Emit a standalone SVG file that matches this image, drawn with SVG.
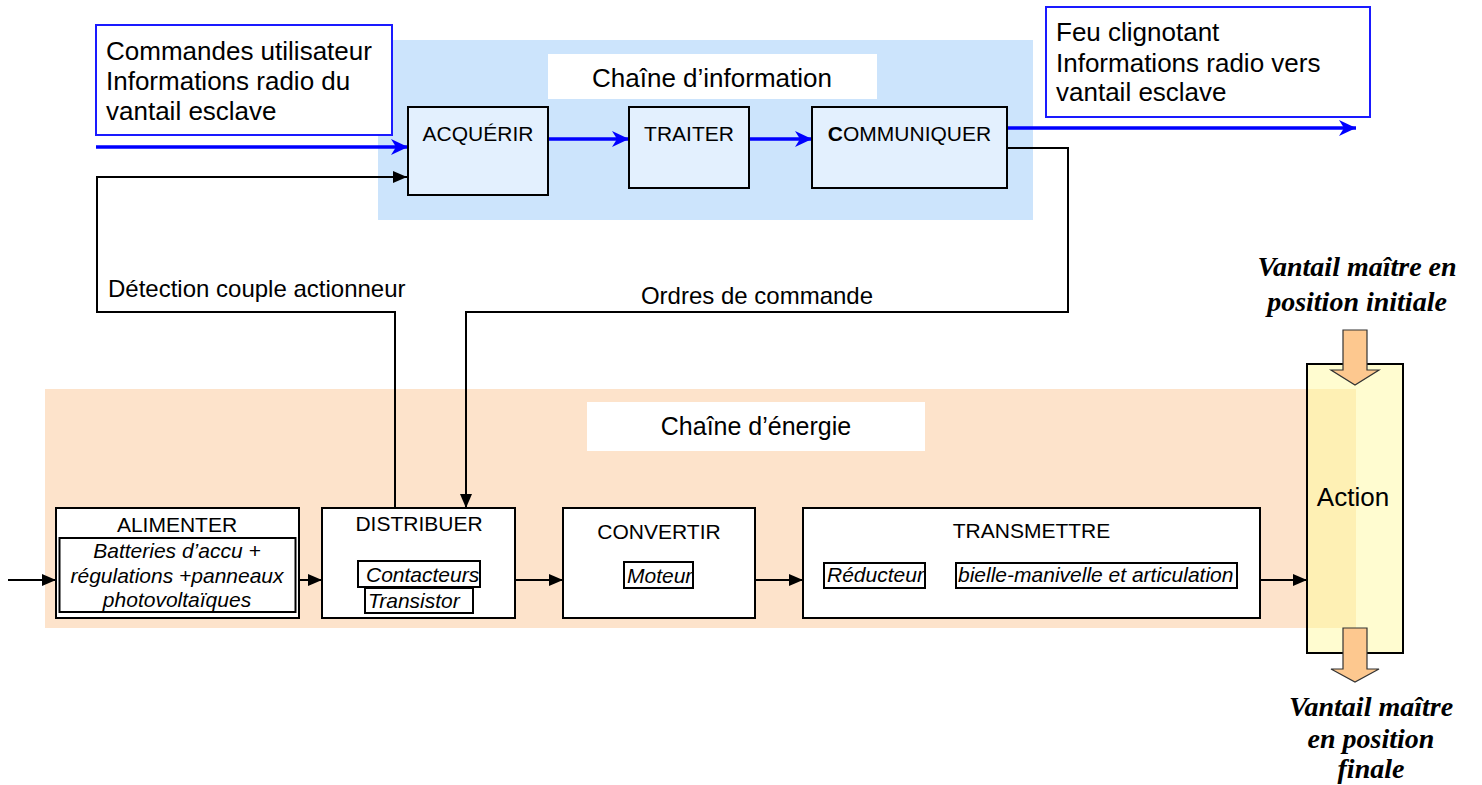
<svg xmlns="http://www.w3.org/2000/svg" width="1482" height="785" viewBox="0 0 1482 785">
<style>
.lbl{font-family:"Liberation Sans",Arial,sans-serif;fill:#000}
.box{fill:#fff;stroke:#000;stroke-width:2}
.ibox{fill:#e3f0fe;stroke:#000;stroke-width:2}
.sub{fill:#fff;stroke:#000;stroke-width:2}
.conn{fill:none;stroke:#000;stroke-width:2}
.blue{fill:none;stroke:#0000ff;stroke-width:3.5}
.vt{font-family:"Liberation Serif","Times New Roman",serif;font-weight:bold;font-style:italic;font-size:28px;text-anchor:middle}
.big{fill:#fdc88f;stroke:#333;stroke-width:1.2}
</style>
<defs>
<marker id="ah" markerUnits="userSpaceOnUse" markerWidth="14" markerHeight="12" refX="14" refY="6" orient="auto">
<path d="M0,0 L14,6 L0,12 Z" fill="#000"/>
</marker>
<marker id="bh" markerUnits="userSpaceOnUse" markerWidth="18" markerHeight="16" refX="17" refY="8" orient="auto">
<path d="M0,0 L17,8 L0,16 L5,8 Z" fill="#0000ff"/>
</marker>
</defs>
<rect width="1482" height="785" fill="#fff"/>

<g id="bg-info">
<rect x="378" y="40" width="655" height="180" fill="#cce4fc"/>
<rect x="548" y="54" width="329" height="45" fill="#fff"/>
<text class="lbl" x="712" y="87" font-size="26" text-anchor="middle">Chaîne d’information</text>
</g>
<g id="bg-energie">
<rect x="45" y="389" width="1311" height="239" fill="#fde3cb"/>
<rect x="587" y="402" width="338" height="49" fill="#fff"/>
<text class="lbl" x="756" y="435" font-size="25" text-anchor="middle">Chaîne d’énergie</text>
</g>

<g id="connectors">
<line class="blue" x1="96" y1="147" x2="408" y2="147" marker-end="url(#bh)"/>
<line class="blue" x1="549" y1="139" x2="629" y2="139" marker-end="url(#bh)"/>
<line class="blue" x1="749" y1="139" x2="812" y2="139" marker-end="url(#bh)"/>
<line class="blue" x1="1007" y1="128" x2="1356" y2="128" marker-end="url(#bh)"/>
<polyline class="conn" points="395,508 395,312 97,312 97,177 407,177" marker-end="url(#ah)"/>
<polyline class="conn" points="1007,148 1068,148 1068,312 466,312 466,508" marker-end="url(#ah)"/>
<line class="conn" x1="8" y1="580" x2="56" y2="580" marker-end="url(#ah)"/>
<line class="conn" x1="299" y1="580" x2="322" y2="580" marker-end="url(#ah)"/>
<line class="conn" x1="515" y1="580" x2="563" y2="580" marker-end="url(#ah)"/>
<line class="conn" x1="755" y1="580" x2="803" y2="580" marker-end="url(#ah)"/>
<line class="conn" x1="1260" y1="580" x2="1307" y2="580" marker-end="url(#ah)"/>
<line class="conn" x1="925" y1="575" x2="956" y2="575"/>
</g>

<g id="input-box">
<rect x="96" y="25" width="296" height="110" fill="#fff" stroke="#1a1aff" stroke-width="2"/>
<text class="lbl" font-size="26"><tspan x="106" y="60">Commandes utilisateur</tspan><tspan x="106" y="90">Informations radio du</tspan><tspan x="106" y="120">vantail esclave</tspan></text>
</g>
<g id="output-box">
<rect x="1046" y="7" width="324" height="110" fill="#fff" stroke="#1a1aff" stroke-width="2"/>
<text class="lbl" font-size="26"><tspan x="1056" y="41">Feu clignotant</tspan><tspan x="1056" y="72">Informations radio vers</tspan><tspan x="1056" y="101">vantail esclave</tspan></text>
</g>

<g id="acquerir">
<rect class="ibox" x="408" y="107" width="140" height="88"/>
<text class="lbl" x="478" y="141" font-size="21" text-anchor="middle">ACQUÉRIR</text>
</g>
<g id="traiter">
<rect class="ibox" x="629" y="107" width="120" height="81"/>
<text class="lbl" x="689" y="141" font-size="21" text-anchor="middle">TRAITER</text>
</g>
<g id="communiquer">
<rect class="ibox" x="812" y="107" width="195" height="81"/>
<text class="lbl" x="909.5" y="141" font-size="21" text-anchor="middle"><tspan font-weight="bold">C</tspan>OMMUNIQUER</text>
</g>

<g id="label-detection">
<text class="lbl" x="108" y="297" font-size="24">Détection couple actionneur</text>
</g>
<g id="label-ordres">
<text class="lbl" x="757" y="304" font-size="24" text-anchor="middle">Ordres de commande</text>
</g>

<g id="alimenter">
<rect class="box" x="56" y="508" width="243" height="110"/>
<rect class="sub" x="59.5" y="538" width="236" height="74" stroke-width="1.5"/>
<text class="lbl" x="177" y="532" font-size="21" text-anchor="middle">ALIMENTER</text>
<text class="lbl" font-size="21" font-style="italic" text-anchor="middle"><tspan x="177" y="558">Batteries d’accu +</tspan><tspan x="177" y="583">régulations +panneaux</tspan><tspan x="177" y="607">photovoltaïques</tspan></text>
</g>
<g id="distribuer">
<rect class="box" x="322" y="508" width="193" height="110"/>
<text class="lbl" x="419" y="531" font-size="21" text-anchor="middle">DISTRIBUER</text>
<rect class="sub" x="358" y="561" width="122" height="26"/>
<text class="lbl" x="366" y="582" font-size="21" font-style="italic">Contacteurs</text>
<rect class="sub" x="365" y="588" width="108" height="25"/>
<text class="lbl" x="368" y="608" font-size="21" font-style="italic">Transistor</text>
</g>
<g id="convertir">
<rect class="box" x="563" y="508" width="192" height="110"/>
<text class="lbl" x="659" y="539" font-size="21" text-anchor="middle">CONVERTIR</text>
<rect class="sub" x="624" y="562" width="69" height="26"/>
<text class="lbl" x="627" y="583" font-size="21" font-style="italic">Moteur</text>
</g>
<g id="transmettre">
<rect class="box" x="803" y="508" width="457" height="110"/>
<text class="lbl" x="1031.5" y="538" font-size="21" text-anchor="middle">TRANSMETTRE</text>
<rect class="sub" x="824" y="563" width="101" height="25"/>
<text class="lbl" x="827" y="582" font-size="21" font-style="italic">Réducteur</text>
<rect class="sub" x="956" y="563" width="281" height="25"/>
<text class="lbl" x="958" y="582" font-size="21" font-style="italic">bielle-manivelle et articulation</text>
</g>

<g id="action">
<rect x="1307" y="364" width="96" height="289" fill="#fffcd0"/>
<rect x="1307" y="389" width="49" height="239" fill="#fef0b4"/>
<rect x="1307" y="364" width="96" height="289" fill="none" stroke="#000" stroke-width="2"/>
<text class="lbl" x="1353" y="506" font-size="26" text-anchor="middle">Action</text>
</g>
<g id="arrow-initial">
<path class="big" d="M1343,330 H1367 V370 H1379 L1355,385 L1331,370 H1343 Z"/>
<text class="vt"><tspan x="1357" y="276">Vantail maître en</tspan><tspan x="1357" y="311">position initiale</tspan></text>
</g>
<g id="arrow-final">
<path class="big" d="M1343,628 H1367 V669 H1379 L1355,682 L1331,669 H1343 Z"/>
<text class="vt"><tspan x="1371" y="716">Vantail maître</tspan><tspan x="1371" y="748">en position</tspan><tspan x="1371" y="778">finale</tspan></text>
</g>
</svg>
